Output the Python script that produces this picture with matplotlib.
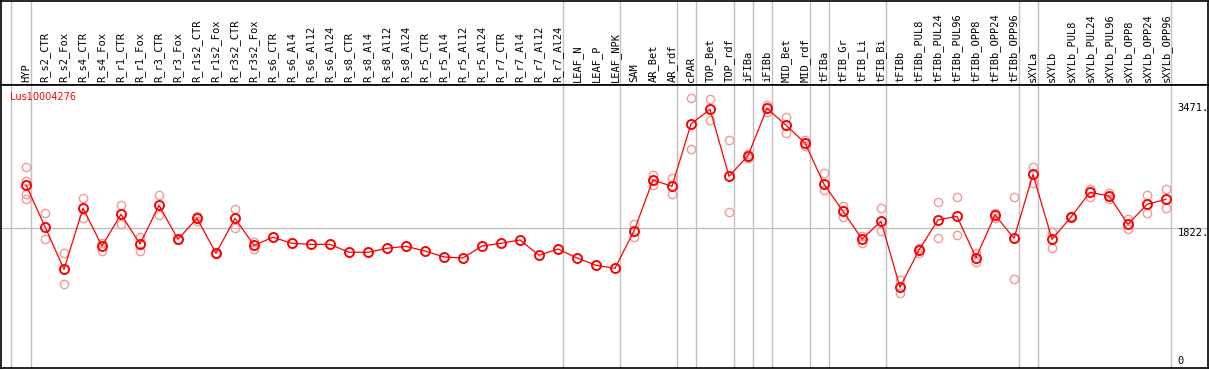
import matplotlib
matplotlib.use("Agg")
import matplotlib.pyplot as plt

# sample names along the x axis
samples = ["HYP", "R_s2_CTR", "R_s2_Fox", "R_s4_CTR", "R_s4_Fox", "R_r1_CTR", "R_r1_Fox",
           "R_r3_CTR", "R_r3_Fox", "R_r1s2_CTR", "R_r1s2_Fox", "R_r3s2_CTR", "R_r3s2_Fox",
           "R_s6_CTR", "R_s6_Al4", "R_s6_Al12", "R_s6_Al24", "R_s8_CTR", "R_s8_Al4",
           "R_s8_Al12", "R_s8_Al24", "R_r5_CTR", "R_r5_Al4", "R_r5_Al12", "R_r5_Al24",
           "R_r7_CTR", "R_r7_Al4", "R_r7_Al12", "R_r7_Al24", "LEAF_N", "LEAF_P", "LEAF_NPK",
           "SAM", "AR_Bet", "AR_rdf", "cPAR", "TOP_Bet", "TOP_rdf", "iFIBa", "iFIBb",
           "MID_Bet", "MID_rdf", "tFIBa", "tFIB_Gr", "tFIB_Li", "tFIB_Bi", "tFIBb",
           "tFIBb_PUL8", "tFIBb_PUL24", "tFIBb_PUL96", "tFIBb_OPP8", "tFIBb_OPP24",
           "tFIBb_OPP96", "sXYLa", "sXYLb", "sXYLb_PUL8", "sXYLb_PUL24", "sXYLb_PUL96",
           "sXYLb_OPP8", "sXYLb_OPP24", "sXYLb_OPP96"]

# mean expression per sample
means = [2411, 1840, 1256, 2092, 1575, 2010, 1603, 2133, 1667, 1955, 1475, 1955, 1585,
         1695, 1612, 1598, 1598, 1489, 1489, 1544, 1571, 1507, 1425, 1411, 1575, 1612,
         1658, 1448, 1534, 1411, 1311, 1270, 1781, 2480, 2393, 3247, 3448, 2530, 2813,
         3462, 3229, 2987, 2421, 2051, 1671, 1914, 1010, 1521, 1932, 1982, 1416, 2000,
         1681, 2557, 1667, 1973, 2311, 2261, 1873, 2147, 2215]

# individual replicates
reps = [[2653, 2466, 2288, 2215], [2023, 1667], [1475, 1051], [2229, 1955], [1621, 1511],
        [2137, 1873], [1695, 1511], [2274, 1996], [1660, 1674], [1987, 1922], [1484, 1466],
        [2078, 1826], [1630, 1539], [], [], [], [], [], [], [], [], [], [], [], [], [], [],
        [], [], [], [], [], [1877, 1703], [2548, 2411], [2503, 2284], [3599, 2900],
        [3589, 3297], [3023, 2037], [2836, 2786], [3507, 3415], [3339, 3119], [3028, 2950],
        [2572, 2343], [2128, 1977], [1713, 1617], [2092, 1785], [1110, 927], [1552, 1475],
        [2174, 1681], [2243, 1722], [1484, 1361], [2032, 1955], [2243, 1119], [2653, 2434],
        [1772, 1552], [1980, 1966], [2356, 2251], [2306, 2215], [1950, 1804], [2270, 2023],
        [2356, 2096]]

# group separators (after these sample indices)
group_ends = [-1.05, 0, 28, 31, 34, 35, 37, 38, 39, 41, 42, 45, 52, 53, 60]

gene = "Lus10004276"
ytick_vals = [3471, 1822, 0]
ytick_text = ["3471.", "1822.", "0"]

W, H = 1209, 370
fig = plt.figure(figsize=(W / 100, H / 100), dpi=100)
x0 = 1 / W
w = 1207 / W
head = fig.add_axes([x0, (H - 85) / H, w, 84 / H])
ax = fig.add_axes([x0, 2 / H, w, 283 / H])

xlim = (-1.316, 62.21)
grid_c = "#c0c0c0"
for a in (head, ax):
    a.set_xlim(*xlim)
    a.set_xticks([])
    a.set_yticks([])
    for s in a.spines.values():
        s.set_color("black")
        s.set_linewidth(1.2)
    for g in group_ends:
        a.axvline(g + 0.25, color=grid_c, lw=1, zorder=0)

head.set_ylim(0, 1)
for i, name in enumerate(samples):
    head.text(i, 0.03, name, rotation=90, ha="center", va="bottom",
              family="DejaVu Sans Mono", fontsize=7.5)

ax.set_ylim(-96, 3781)
ax.axhline(1822, color=grid_c, lw=1, zorder=0)

xs = list(range(len(samples)))
for i, r in enumerate(reps):
    if r:
        ax.plot([i] * len(r), r, "o", ms=6, mfc="none", mec="#f09a9a", mew=1, zorder=2)
ax.plot(xs, means, "-", color="red", lw=0.9, zorder=3)
ax.plot(xs, means, "o", ms=6.5, mfc="none", mec="red", mew=1.4, zorder=4)

ax.text(-0.85, 3621, gene, color="red", fontsize=7, va="center", ha="left", zorder=5)

ax.text(60.6, ytick_vals[0], ytick_text[0], va="center", ha="left",
        family="DejaVu Sans Mono", fontsize=7.5)
ax.text(60.6, ytick_vals[1], ytick_text[1], va="top", ha="left",
        family="DejaVu Sans Mono", fontsize=7.5)
ax.text(60.6, ytick_vals[2], ytick_text[2], va="center", ha="left",
        family="DejaVu Sans Mono", fontsize=7.5)

fig.savefig("out.png", dpi=100)
